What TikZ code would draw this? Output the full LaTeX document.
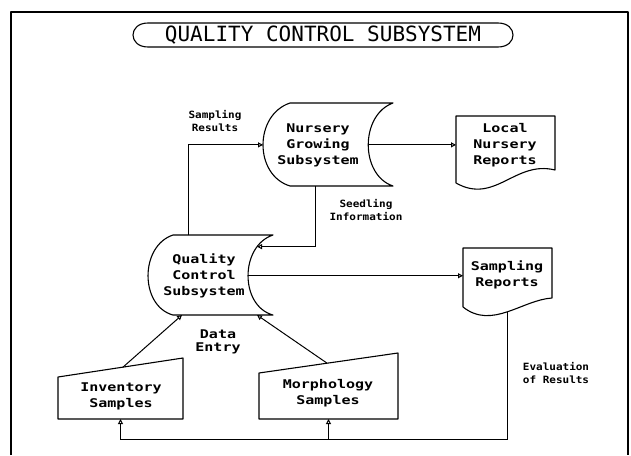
\documentclass[tikz,border=0pt]{standalone}
\usepackage{fontspec}
\newfontfamily\plotfont[FakeStretch=1.25]{DejaVu Sans Mono}
\newfontfamily\labelfont[FakeStretch=1.1]{DejaVu Sans Mono}
\newfontfamily\titlefont{DejaVu Sans Mono}
\usetikzlibrary{arrows.meta,calc}

\tikzset{
  boxtext/.style={align=center,font=\plotfont\bfseries\fontsize{12}{16}\selectfont},
  flowlabel/.style={align=center,font=\labelfont\bfseries\fontsize{10}{13}\selectfont},
  outline/.style={line width=1.1pt,line join=round},
  flow/.style={line width=1pt,-{Triangle[open,length=5pt,width=5pt]}}
}

\begin{document}
\begin{tikzpicture}[x=1pt,y=-1pt]
\useasboundingbox (0,0) rectangle (631,455);
% frame
\draw[outline] (11,455) -- (11,12) -- (628,12) -- (628,455);

% title
\node[font=\titlefont\fontsize{21}{21}\selectfont] (title) at (323,35) {QUALITY CONTROL SUBSYSTEM};
\draw[outline,shift={(title.center)}] (-175,-12) -- (175,-12)
  .. controls (195,-12) and (195,12) .. (175,12) -- (-175,12)
  .. controls (-195,12) and (-195,-12) .. cycle;

% stored data
\node[boxtext] (ng) at (318,145) {Nursery\\Growing\\Subsystem};
\draw[outline,shift={(ng.center)}] (-28,-42) -- (75,-42)
  .. controls (42,-30) and (42,30) .. (75,41) coordinate[pos=.5] (ng-e)
  -- (-28,41) coordinate[pos=.75] (ng-s)
  .. controls (-64,30) and (-64,-30) .. (-28,-42) coordinate[pos=.5] (ng-w) -- cycle;

\node[boxtext] (qc) at (204,276) {Quality\\Control\\Subsystem};
\draw[outline,shift={(qc.center)}] (-31,-41) -- (69,-41) coordinate[pos=.15] (qc-n)
  .. controls (35.7,-30) and (35.7,30) .. (69,39) coordinate[pos=.2] (qc-ne) coordinate[pos=.5] (qc-e)
  -- (-31,39) coordinate[pos=.16] (qc-s2) coordinate[pos=.91] (qc-s1)
  .. controls (-64.3,30) and (-64.3,-30) .. (-31,-41) -- cycle;

% documents
\node[boxtext] (lnr) at (505,145) {Local\\Nursery\\Reports};
\draw[outline,shift={(lnr.center)}] (-49,38) -- (-49,-29) coordinate[pos=.57] (lnr-w)
  -- (50,-29) -- (50,25) .. controls (10,15) and (-10,60) .. (-49,38) -- cycle;

\node[boxtext] (sr) at (507,275) {Sampling\\Reports};
\draw[outline,shift={(sr.center)}] (-44,32) -- (-44,-27) coordinate[pos=.54] (sr-w)
  -- (45,-27) -- (45,23) .. controls (15,25) and (-15,55) .. (-44,32) coordinate[pos=.5] (sr-s) -- cycle;

% manual input
\node[boxtext] (inv) at (121,396) {Inventory\\Samples};
\draw[outline,shift={(inv.center)}] (-63,-19) -- (62,-38) coordinate[pos=.52] (inv-n)
  -- (62,23) -- (-63,23) coordinate[pos=.5] (inv-s) -- cycle;

\node[boxtext] (mor) at (328,393) {Morphology\\Samples};
\draw[outline,shift={(mor.center)}] (-69,-20) -- (70,-40) coordinate[pos=.49] (mor-n)
  -- (70,26) -- (-69,26) coordinate[pos=.5] (mor-s) -- cycle;

% flows
\draw[flow] (inv-n) -- (qc-s1);
\draw[flow] (mor-n) -- (qc-s2);
\draw[flow] (qc-n) |- (ng-w);
\draw[flow] (ng-s) |- (qc-ne);
\draw[flow] (ng-e) -- (ng-e -| lnr-w);
\draw[flow] (qc-e) -- (qc-e -| sr-w);
\coordinate (evalbase) at ($(inv-s)+(0,20)$);
\draw[flow] (sr-s) |- (evalbase) -- (inv-s);
\draw[flow] (mor-s |- evalbase) -- (mor-s);

% labels
\node[flowlabel] (lblsampling) at (215,121) {Sampling\\Results};
\node[flowlabel] (lblseedling) at (366,210) {Seedling\\Information};
\node[boxtext,font=\plotfont\bfseries\fontsize{12}{13}\selectfont] (lbldata) at (218,342) {Data\\Entry};
\node[flowlabel,align=left] (lbleval) at (556,373) {Evaluation\\of Results};
\end{tikzpicture}
\end{document}
